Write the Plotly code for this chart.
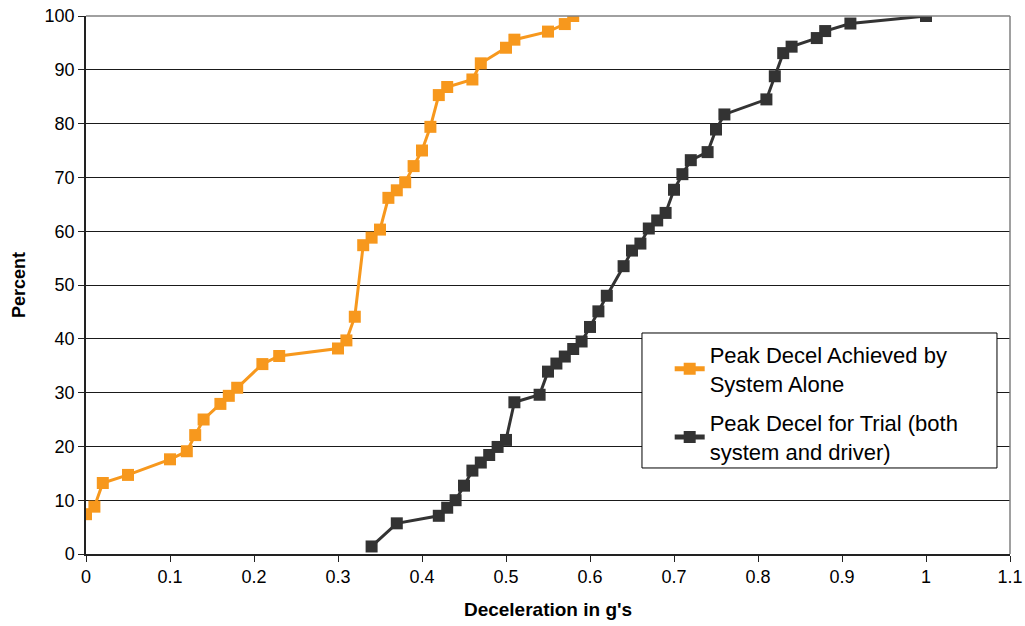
import plotly.graph_objects as go

# Peak deceleration (g) vs cumulative percent of trials
system_x = [0.00, 0.01, 0.02, 0.05, 0.10, 0.12, 0.13, 0.14, 0.16, 0.17, 0.18, 0.21,
            0.23, 0.30, 0.31, 0.32, 0.33, 0.34, 0.35, 0.36, 0.37, 0.38, 0.39, 0.40,
            0.41, 0.42, 0.43, 0.46, 0.47, 0.50, 0.51, 0.55, 0.57, 0.58]
system_pct = [7.4, 8.8, 13.2, 14.7, 17.6, 19.1, 22.1, 25.0, 27.9, 29.4, 30.9, 35.3,
              36.8, 38.2, 39.7, 44.1, 57.4, 58.8, 60.3, 66.2, 67.6, 69.1, 72.1, 75.0,
              79.4, 85.3, 86.8, 88.2, 91.2, 94.1, 95.6, 97.1, 98.5, 100.0]

trial_x = [0.34, 0.37, 0.42, 0.43, 0.44, 0.45, 0.46, 0.47, 0.48, 0.49, 0.50, 0.51,
           0.54, 0.55, 0.56, 0.57, 0.58, 0.59, 0.60, 0.61, 0.62, 0.64, 0.65, 0.66,
           0.67, 0.68, 0.69, 0.70, 0.71, 0.72, 0.74, 0.75, 0.76, 0.81, 0.82, 0.83,
           0.84, 0.87, 0.88, 0.91, 1.00]
trial_pct = [1.4, 5.7, 7.1, 8.6, 10.0, 12.7, 15.5, 17.0, 18.4, 19.9, 21.2, 28.2,
             29.6, 33.9, 35.4, 36.7, 38.1, 39.5, 42.2, 45.1, 48.0, 53.5, 56.4, 57.7,
             60.5, 62.0, 63.4, 67.7, 70.6, 73.2, 74.7, 78.9, 81.7, 84.5, 88.8, 93.1,
             94.3, 95.9, 97.2, 98.6, 100.0]

series_names = ["Peak Decel Achieved by<br>System Alone",
                "Peak Decel for Trial (both<br>system and driver)"]

ORANGE = "#F7981D"
DARK = "#333333"
FONT = "Liberation Sans, Arial, sans-serif"

fig = go.Figure()
fig.add_trace(go.Scatter(
    x=system_x, y=system_pct, mode="lines+markers", name=series_names[0],
    legendgroup="a",
    line=dict(color=ORANGE, width=3),
    marker=dict(symbol="square", size=12, color=ORANGE),
))
fig.add_trace(go.Scatter(
    x=trial_x, y=trial_pct, mode="lines+markers", name=series_names[1],
    legendgroup="b",
    line=dict(color=DARK, width=3),
    marker=dict(symbol="square", size=12, color=DARK),
))

# gray frame on the top and right of the plot area
fig.add_shape(type="line", xref="paper", yref="paper", x0=0, x1=1, y0=1, y1=1,
              line=dict(color="#808080", width=1.5))
fig.add_shape(type="line", xref="paper", yref="paper", x0=1, x1=1, y0=0, y1=1,
              line=dict(color="#808080", width=1.5))

# legend frame (the legend itself is drawn borderless inside it)
fig.add_shape(type="rect", xref="paper", yref="paper",
              x0=0.6017, x1=0.9859, y0=0.1599, y1=0.4108,
              fillcolor="white", line=dict(color="black", width=1), layer="above")

fig.update_layout(
    width=1025, height=626,
    margin=dict(l=86, r=15, t=16, b=72),
    paper_bgcolor="white", plot_bgcolor="white",
    font=dict(family=FONT, color="black", size=18),
    showlegend=True,
    legend=dict(
        x=0.6317, y=0.4096, xanchor="left", yanchor="top",
        bgcolor="rgba(0,0,0,0)", borderwidth=0,
        font=dict(family=FONT, size=22, color="black"),
        traceorder="grouped", tracegroupgap=8,
        itemsizing="constant",
    ),
    xaxis=dict(
        range=[0, 1.1], dtick=0.1, tick0=0, automargin=False,
        showgrid=False, zeroline=False,
        showline=True, linecolor="#222222", linewidth=1.5,
        ticks="outside", ticklen=6, tickcolor="#222222",
        tickfont=dict(family=FONT, size=18, color="black"),
        title=dict(text="<b>Deceleration in g's</b>",
                   font=dict(family=FONT, size=19, color="black"), standoff=16),
    ),
    yaxis=dict(
        range=[0, 100], dtick=10, tick0=0, automargin=False,
        showgrid=True, gridcolor="#1a1a1a", gridwidth=1,
        zeroline=False,
        showline=True, linecolor="#222222", linewidth=1.5,
        ticks="outside", ticklen=6, tickcolor="#222222",
        tickfont=dict(family=FONT, size=18, color="black"),
        title=dict(text="<b>Percent</b>",
                   font=dict(family=FONT, size=18, color="black"), standoff=14),
    ),
)

fig.write_html("out.html")
